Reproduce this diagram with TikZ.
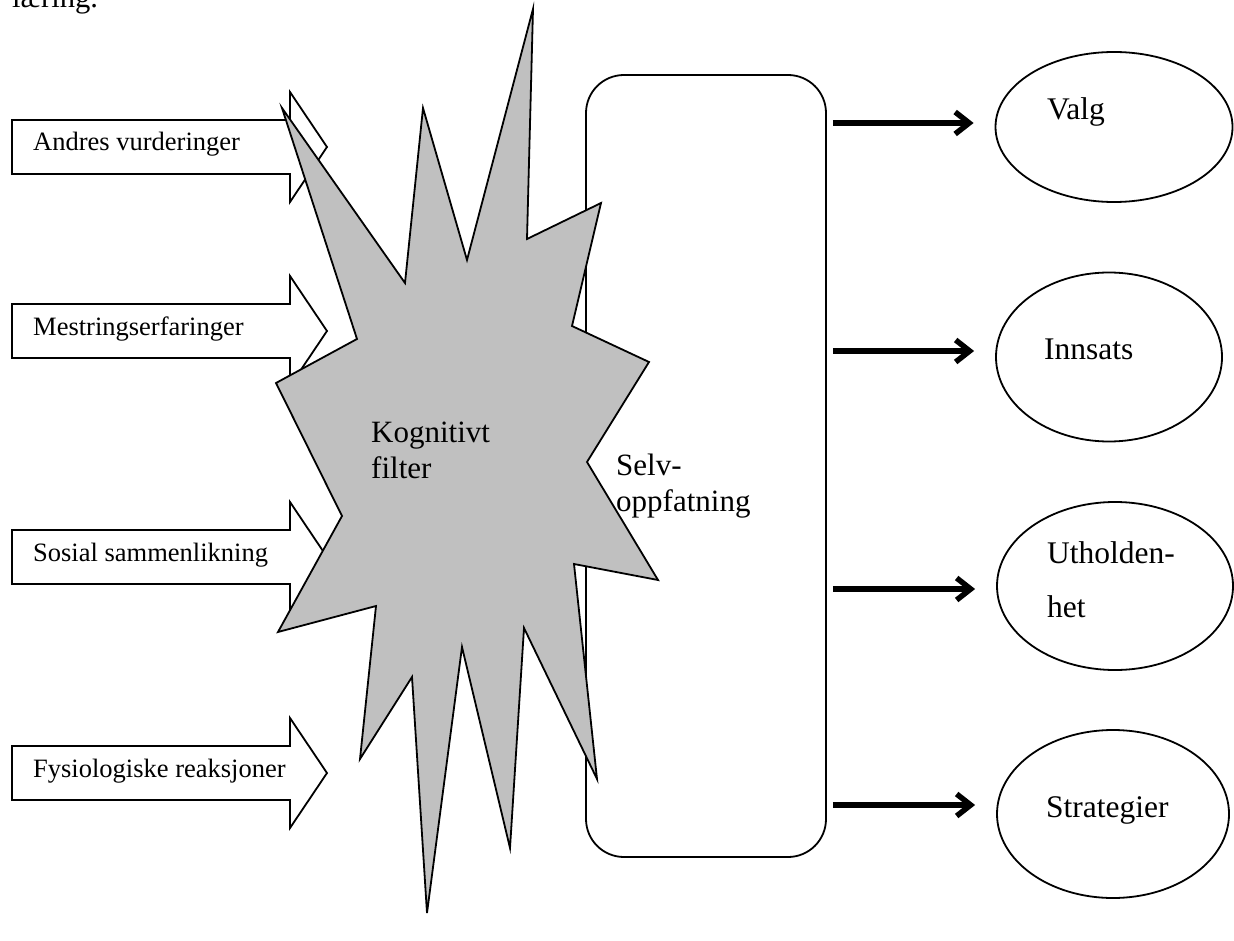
\documentclass[tikz,border=0pt]{standalone}
\usepackage{fontspec}
\setmainfont{Liberation Serif}
\usetikzlibrary{shapes.geometric,arrows.meta}
\definecolor{graa}{RGB}{192,192,192}

\begin{document}
\begin{tikzpicture}[x=1pt,y=-1pt,
    omriss/.style={line width=1.8pt},
    blokkpil/.style={omriss,draw,fill=white},
    pilnavn/.style={anchor=base west,inner sep=0,font=\fontsize{26.5}{32}\selectfont},
    utfall/.style={omriss,draw,ellipse,inner sep=0},
    utfallnavn/.style={anchor=base west,inner sep=0,align=left,font=\fontsize{31.5}{54}\selectfont},
    filternavn/.style={anchor=base west,inner sep=0,align=left,font=\fontsize{31}{36}\selectfont},
    utpil/.style={line width=5.5pt,-{Straight Barb[length=14pt,width=22pt]}}]
    \useasboundingbox (0,0) rectangle (1234,941);
    \node[anchor=base west,inner sep=0,font=\fontsize{30.6}{36}\selectfont] (laering) at (12,8) {læring.};
    % blokkpiler til venstre
    \foreach \c/\navn/\tekst in {147/andres/Andres vurderinger,331/mestring/Mestringserfaringer,557/sosial/Sosial sammenlikning,773/fysio/Fysiologiske reaksjoner}{
        \draw[blokkpil] (12,\c-27) -- (290,\c-27) -- (290,\c-55) -- (327,\c) -- (290,\c+55) -- (290,\c+27) -- (12,\c+27) -- cycle;
        \node[pilnavn] (\navn) at (33,\c+4) {\tekst};
    }
    % selvoppfatning
    \node[omriss,draw,rounded corners=38pt,minimum width=240pt,minimum height=782pt] (selv) at (706,466) {};
    % kognitivt filter
    \draw[omriss,fill=graa] (282,108) -- (405,283) -- (423,108) -- (467,260) -- (533,9) -- (527,239)
        -- (601,203) -- (572,326) -- (649,362) -- (587,462) -- (658,580) -- (574,564)
        -- (597,779) -- (524,628) -- (510,848) -- (462,647) -- (427,913) -- (412,677)
        -- (360,759) -- (376,606) -- (278,632) -- (342,516) -- (276,383) -- (357,339) -- cycle;
    % base = siste linje
    \node[filternavn] (filter) at (371,478) {Kognitivt\\filter};
    \node[filternavn] (selvnavn) at (616,511) {Selv-\\oppfatning};
    % utfall
    \node[utfall,minimum width=237pt,minimum height=150pt] (valg) at (1114,127) {};
    \node[utfall,minimum width=226pt,minimum height=169pt] (innsats) at (1109,357) {};
    \node[utfall,minimum width=236pt,minimum height=168pt] (uthold) at (1115,586) {};
    \node[utfall,minimum width=232pt,minimum height=168pt] (strat) at (1113,814) {};
    \node[utfallnavn] (valgnavn) at (1047,120) {Valg};
    \node[utfallnavn] (innsatsnavn) at (1044,359) {Innsats};
    \node[utfallnavn] (utholdnavn) at (1047,617) {Utholden-\\het};
    \node[utfallnavn] (stratnavn) at (1046,817) {Strategier};
    \foreach \mal/\y in {valg/123,innsats/351,uthold/589,strat/805}
        \draw[utpil] ([xshift=6pt]selv.east |- 0,\y) -- ([xshift=-21pt]\mal.west |- 0,\y);
\end{tikzpicture}
\end{document}
